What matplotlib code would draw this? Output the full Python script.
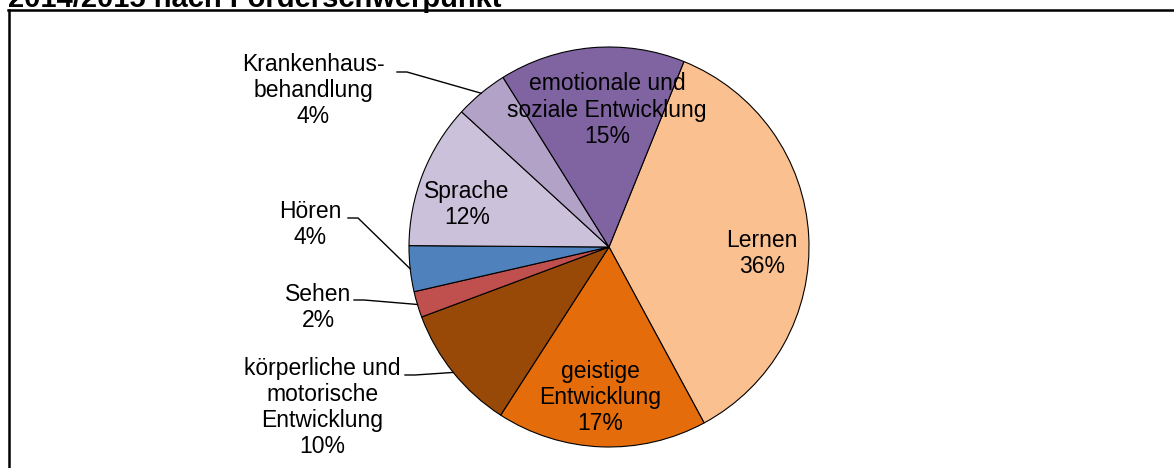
"""Pie chart: Förderschwerpunkte 2014/2015 (cropped Excel-style figure)."""

import numpy as np
import matplotlib

matplotlib.use("Agg")

import matplotlib.pyplot as plt

plt.rcParams["font.family"] = ["Liberation Sans", "DejaVu Sans"]

# data, clockwise order starting with "Lernen"
categories = [
    "Lernen",
    "geistige\nEntwicklung",
    "körperliche und\nmotorische\nEntwicklung",
    "Sehen",
    "Hören",
    "Sprache",
    "Krankenhaus-\nbehandlung",
    "emotionale und\nsoziale Entwicklung",
]
shares = [36.0, 17.0, 10.2, 2.1, 3.7, 11.7, 4.3, 15.0]
pct_labels = ["36%", "17%", "10%", "2%", "4%", "12%", "4%", "15%"]
colors = ["#FAC090", "#E46C0A", "#984807", "#C0504D", "#4F81BD", "#CCC1DA", "#B3A2C7", "#8064A2"]
title = "2014/2015 nach Förderschwerpunkt"

W, H = 1174, 468
CX, CY, R = 609, 247, 200  # pixel layout, y from top
START = 68  # degrees, matplotlib convention

# inside labels: (radius fraction, angle in degrees) per slice
inside = {0: (0.766, -2.6), 1: (0.756, -93.4), 5: (0.74, 163.5), 7: (0.685, 90.8)}
# outside labels: text centre x, top y, leader start (x, y)
outside = {
    2: (322, 357, 405, 375),
    3: (318, 283, 354, 300),
    4: (310, 200, 348, 218),
    6: (313, 53, 397, 72),
}
FS = 16.5
LS = 1.17

fig = plt.figure(figsize=(W / 100, H / 100), dpi=100)
ax = fig.add_axes([0, 0, 1, 1])

wedges, _ = ax.pie(
    shares,
    colors=colors,
    startangle=START,
    counterclock=False,
    center=(CX, H - CY),
    radius=R,
    wedgeprops=dict(edgecolor="black", linewidth=0.8),
)
ax.set_xlim(0, W)
ax.set_ylim(0, H)
ax.set_aspect("auto")
ax.axis("off")

for i, w in enumerate(wedges):
    label = f"{categories[i]}\n{pct_labels[i]}"
    if i in inside:
        rf, ang = inside[i]
        a = np.deg2rad(ang)
        ax.text(CX + rf * R * np.cos(a), H - CY + rf * R * np.sin(a), label,
                ha="center", va="center", fontsize=FS, linespacing=LS)
    else:
        mid = np.deg2rad((w.theta1 + w.theta2) / 2)
        tx, ty, lx, ly = outside[i]
        ax.text(tx, H - ty, label, ha="center", va="top", fontsize=FS, linespacing=LS)
        ex = CX + R * np.cos(mid)
        ey = H - CY + R * np.sin(mid)
        ax.plot([lx, lx + 10, ex], [H - ly, H - ly, ey], color="black", lw=1.0)

# frame remnants (top and left border of the chart area)
ax.plot([8, W], [H - 10, H - 10], color="black", lw=1.8, clip_on=False)
ax.plot([9, 9], [H - 10, 0], color="black", lw=1.8, clip_on=False)

fig.text(8 / W, 1 - 7 / H, title, ha="left", va="baseline", fontsize=21, fontweight="bold")

fig.savefig("out.png", dpi=100)
